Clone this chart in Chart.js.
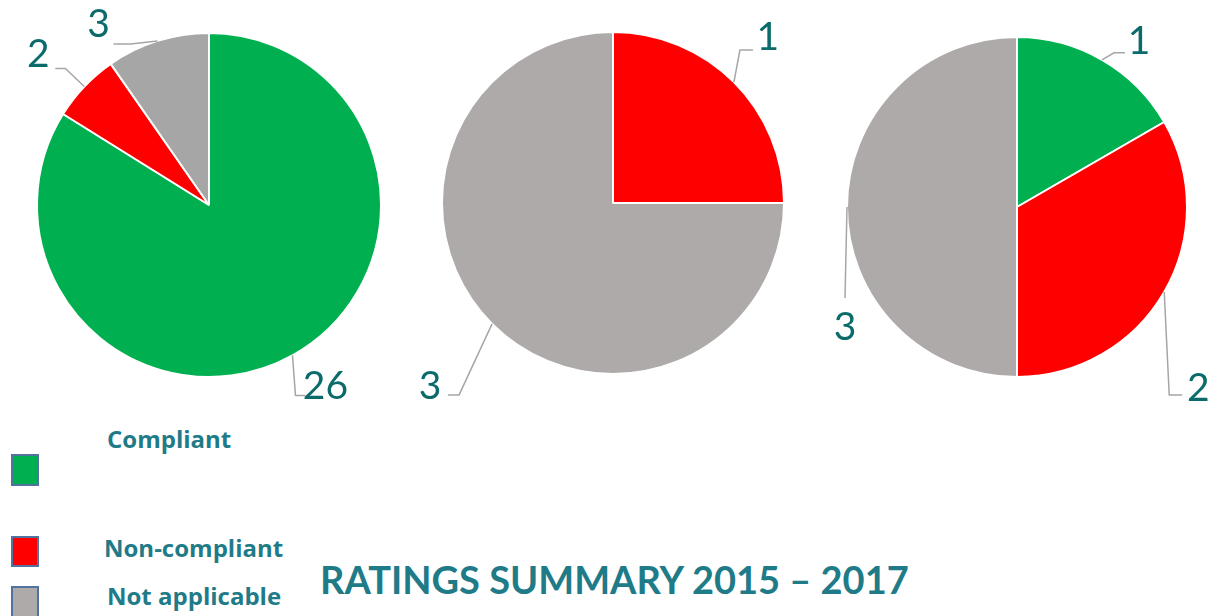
<!DOCTYPE html>
<html>
<head>
<meta charset="utf-8">
<script src="https://cdn.jsdelivr.net/npm/chart.js@4.4.0/dist/chart.umd.min.js"></script>
<style>
  body { margin: 0; background: #fff; width: 1213px; height: 616px; overflow: hidden; position: relative; font-family: Lato, "Open Sans", sans-serif; }
  canvas { position: absolute; top: 0; }
  .sw { position: absolute; left: 11px; width: 24px; border: 2px solid #5273a0; }
  .lg { position: absolute; color: #1f7b88; font-family: "Open Sans", sans-serif; font-weight: bold; font-size: 24px; white-space: nowrap; }
  #title { position: absolute; left: 320px; top: 556px; color: #1f7b88; font-weight: bold; font-size: 38px; white-space: nowrap; }
</style>
</head>
<body>
<canvas id="pie1" width="404" height="420" style="left:0px"></canvas>
<canvas id="pie2" width="404" height="420" style="left:404px"></canvas>
<canvas id="pie3" width="405" height="420" style="left:808px"></canvas>
<div id="legend"></div>
<div id="title">RATINGS SUMMARY 2015 – 2017</div>
<script>
// categorias
let categorias = ['Compliant', 'Non-compliant', 'Not applicable'];

// valores de cada grafico
let valores1 = [26, 2, 3];
let valores2 = [0, 1, 3];
let valores3 = [1, 2, 3];

let colores1 = ['#00b050', '#ff0000', '#a6a6a6'];
let colores2 = ['#00b050', '#ff0000', '#aeaaaa'];

// posicion de etiquetas y lineas guia (respecto al borde del sector)
// [codoX, codoY, finX, finY, textoX, textoY]
let guias1 = [[3, 40, 13, 40, 33, 31], [-19, -18, -29, -18, -46, -32], [-27, 3, -44, 3, -59, -16]];
let guias2 = [null, [6, -32, 19, -32, 34, -45], [-33, 71, -44, 71, -62, 63]];
let guias3 = [[12, -7, 23, -7, 37, -18], [5, 103, 18, 103, 34, 96], [-2, 91, -2, 91, -2, 120]];

// plugin para etiquetas con linea guia
const etiquetasGuia = {
    id: 'etiquetasGuia',
    afterDatasetsDraw(chart, args, opts) {
        const ctx = chart.ctx;
        const meta = chart.getDatasetMeta(0);
        const datos = chart.data.datasets[0].data;
        meta.data.forEach((arc, i) => {
            const g = opts.guias[i];
            if (!g || !datos[i]) return;
            const p = arc.getProps(['x', 'y', 'startAngle', 'endAngle', 'outerRadius'], true);
            const ang = (p.startAngle + p.endAngle) / 2;
            const px = p.x + Math.cos(ang) * p.outerRadius;
            const py = p.y + Math.sin(ang) * p.outerRadius;
            ctx.save();
            ctx.strokeStyle = '#a6a6a6';
            ctx.lineWidth = 1.5;
            ctx.beginPath();
            ctx.moveTo(px, py);
            ctx.lineTo(px + g[0], py + g[1]);
            ctx.lineTo(px + g[2], py + g[3]);
            ctx.stroke();
            ctx.fillStyle = '#0b6b6b';
            ctx.font = '39px Lato, "Open Sans", sans-serif';
            ctx.textAlign = 'center';
            ctx.textBaseline = 'middle';
            ctx.fillText(String(datos[i]), px + g[4], py + g[5]);
            ctx.restore();
        });
    }
};

function crearPie(id, valores, colores, guias, padding) {
    const ctx = document.getElementById(id).getContext('2d');
    return new Chart(ctx, {
        type: 'pie',
        data: {
            labels: categorias,
            datasets: [{
                data: valores,
                backgroundColor: colores,
                borderColor: '#ffffff',
                borderWidth: 2
            }]
        },
        options: {
            responsive: false,
            animation: false,
            layout: { padding: padding },
            plugins: {
                legend: { display: false },
                tooltip: { enabled: false },
                etiquetasGuia: { guias: guias }
            }
        },
        plugins: [etiquetasGuia]
    });
}

// centro (209,205) r 172 ; (612,203) r 171 ; (1016,207) r 170
crearPie('pie1', valores1, colores1, guias1, { left: 36, top: 32, right: 22, bottom: 42 });
crearPie('pie2', valores2, colores2, guias2, { left: 37, top: 31, right: 23, bottom: 45 });
crearPie('pie3', valores3, colores2, guias3, { left: 37, top: 36, right: 24, bottom: 42 });

// leyenda: [top cuadro, alto cuadro, top texto]
let legendTops = [[454, 32, 422], [536, 31, 531], [586, 32, 579]];
let legendLefts = [107, 104, 107];
const leg = document.getElementById('legend');
categorias.forEach((cat, i) => {
    const sw = document.createElement('div');
    sw.className = 'sw';
    sw.style.top = legendTops[i][0] + 'px';
    sw.style.height = (legendTops[i][1] - 4) + 'px';
    sw.style.background = colores2[i];
    leg.appendChild(sw);
    const t = document.createElement('div');
    t.className = 'lg';
    t.style.left = legendLefts[i] + 'px';
    t.style.top = legendTops[i][2] + 'px';
    t.textContent = cat;
    leg.appendChild(t);
});
</script>
</body>
</html>
